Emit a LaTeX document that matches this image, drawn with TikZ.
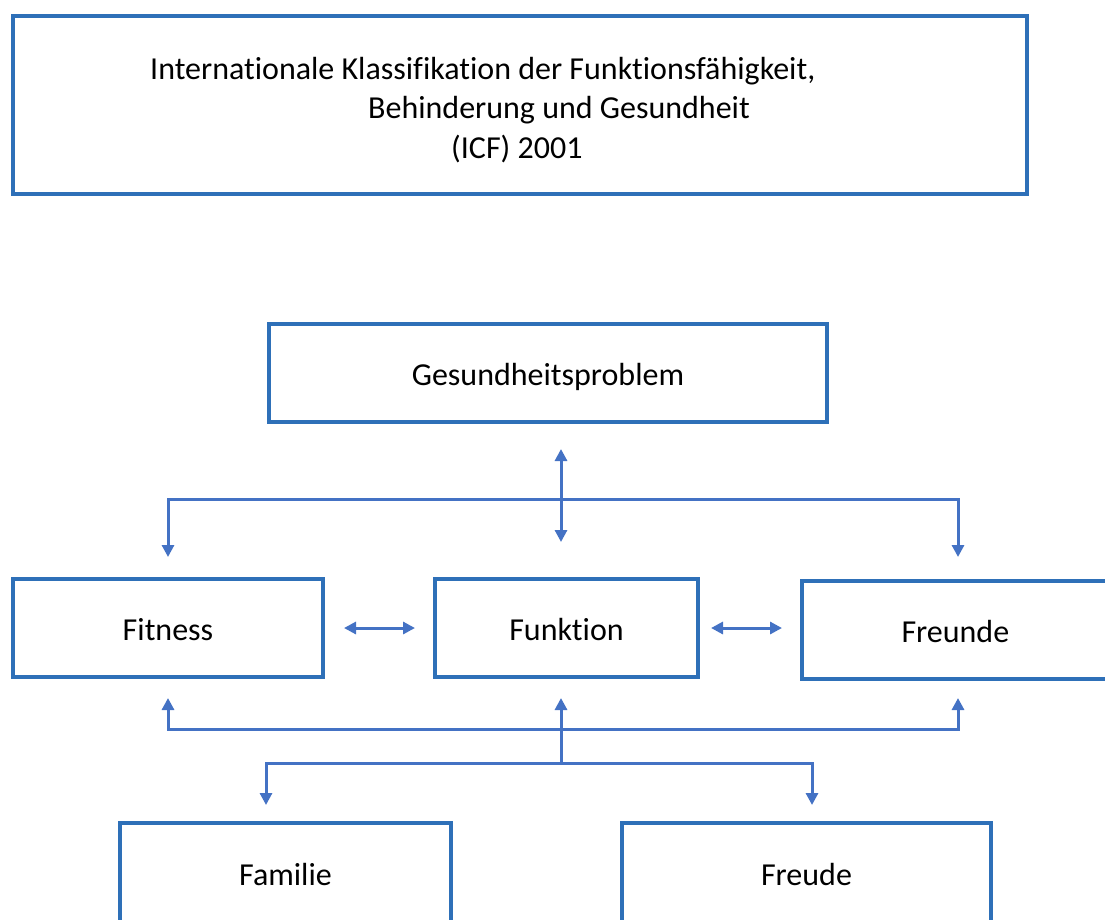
\documentclass[tikz,border=0pt]{standalone}
\usepackage{fontspec}
\setmainfont{Carlito}[Ligatures=NoCommon]
\usetikzlibrary{arrows.meta}
\definecolor{boxblue}{HTML}{2E70B8}
\definecolor{arrblue}{HTML}{4472C4}
\tikzset{
  box/.style={draw=boxblue, line width=4pt, rectangle, inner sep=0pt, font=\fontsize{32}{38}\selectfont},
  txt/.style={inner sep=0pt, font=\fontsize{32}{38}\selectfont},
  arr/.style={draw=arrblue, line width=3pt, arrows={-}, >={Triangle[length=12pt,width=12pt]}},
}
\begin{document}
\begin{tikzpicture}[x=1pt,y=-1pt]
\useasboundingbox (0,0) rectangle (1105,919);
\clip (0,0) rectangle (1105,919);
% title box
\node[box, minimum width=1014pt, minimum height=178pt] (title) at (520,105) {};
\node[txt, anchor=base west] (t1) at (150,79) {Internationale Klassifikation der Funktionsfähigkeit,};
\node[txt, anchor=base west] (t2) at (368,118) {Behinderung und Gesundheit};
\node[txt, anchor=base west] (t3) at (451,158) {(ICF) 2001};
% boxes
\node[box, minimum width=558pt, minimum height=98pt, text height=26pt, text depth=2pt] (gp) at (548,373) {Gesundheitsproblem};
\node[box, minimum width=310pt, minimum height=98pt, text height=26pt, text depth=2pt] (fit) at (168,628) {Fitness};
\node[box, minimum width=263pt, minimum height=98pt, text height=26pt, text depth=2pt] (fkt) at (566.5,628) {Funktion};
\node[box, minimum width=313pt, minimum height=98pt, text width=290pt, align=left, text height=26pt, text depth=2pt] (frd) at (958.5,630) {\hspace*{88pt}Freunde};
\node[box, minimum width=331pt, minimum height=200pt, text height=26pt, text depth=102pt] (fam) at (285.5,923) {Familie};
\node[box, minimum width=369pt, minimum height=200pt, text height=26pt, text depth=102pt] (fre) at (806.5,923) {Freude};
% connector coordinates
\coordinate (gpA) at (561,449);
\coordinate (fktA) at (561,542);
\coordinate (hub1) at (561,499);
\coordinate (fitA) at (168,557);
\coordinate (frdA) at (958,557);
\coordinate (fitB) at (168,698);
\coordinate (frdB) at (958,698);
\coordinate (fktB) at (561,698);
\coordinate (hub2) at (561,729);
\coordinate (hub3) at (561,763);
\coordinate (famA) at (266,805);
\coordinate (freA) at (812,805);
\coordinate (fitC) at (344,628);
\coordinate (fktL) at (415,628);
\coordinate (fktR) at (711,628);
\coordinate (frdC) at (782,628);
% connectors
\draw[arr,<->] (gpA) -- (fktA);
\draw[arr,<->] (fitA) |- (hub1) -| (frdA);
\draw[arr,<->] (fitC) -- (fktL);
\draw[arr,<->] (fktR) -- (frdC);
\draw[arr,<->] (fitB) |- (hub2) -| (frdB);
\draw[arr,->] (hub3) -- (fktB);
\draw[arr,<->] (famA) |- (hub3) -| (freA);
\end{tikzpicture}
\end{document}
